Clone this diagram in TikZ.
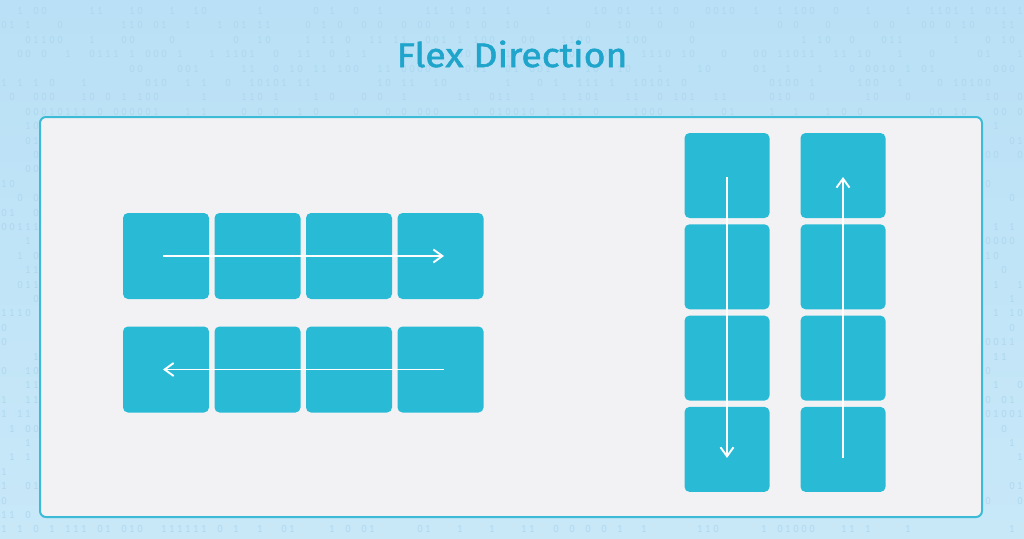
\documentclass[tikz,border=0pt]{standalone}
\usepackage{fontspec}
\setsansfont{PT Sans}
\newfontfamily\titlefont[FakeBold=1.6]{Fira Sans}
\usetikzlibrary{arrows.meta}
\definecolor{flexteal}{HTML}{29BBD6}
\definecolor{titleblue}{HTML}{1FA5CB}
\definecolor{panelgray}{HTML}{F2F2F4}
\definecolor{panelrim}{HTML}{3DBBD6}
\definecolor{skytop}{HTML}{B9E0F6}
\definecolor{skybot}{HTML}{C8E8F8}
\definecolor{bitgray}{HTML}{ADD7EF}
\tikzset{
	flexbox/.style={fill=flexteal, rounded corners=5pt, minimum width=86pt, minimum height=86pt, inner sep=0pt},
	flow/.style={white, line width=1.9pt, -{Straight Barb[length=9pt,width=13pt]}},
	bit/.style={text=bitgray, font=\sffamily\fontsize{10}{10}\selectfont, inner sep=0pt},
	panel/.style={draw=panelrim, line width=2pt, fill=panelgray, rounded corners=6pt, minimum width=942pt, minimum height=400pt, inner sep=0pt},
	heading/.style={text=titleblue, font=\titlefont\fontsize{34}{34}\selectfont, xscale=1.1}
}
\begin{document}
\begin{tikzpicture}[x=1pt,y=-1pt]
	\useasboundingbox (0,0) rectangle (1024,538);
	\shade[top color=skytop, bottom color=skybot] (0,0) rectangle (1024,538);
	% faint binary digits behind everything
	\pgfmathsetseed{42}
	\foreach \r in {0,...,36}
	\foreach \c in {0,...,127}{
		\pgfmathrandominteger{\b}{0}{4}
		\ifnum\b<2 \node[bit] (bit-\r-\c) at (4+\c*8, 11+\r*14.4) {\b};\fi
	}
	\node[panel] (panel) at (511,317) {};
	\node[heading] (title) at (512,54) {Flex Direction};
	\foreach \i in {1,...,4}{
		\node[flexbox] (row\i) at ({166+(\i-1)*91.5},256) {};
		\node[flexbox] (rowrev\i) at ({166+(\i-1)*91.5},369.5) {};
		\node[flexbox, minimum width=85pt, minimum height=85pt] (col\i) at (727,{175.5+(\i-1)*91.3}) {};
		\node[flexbox, minimum width=85pt, minimum height=85pt] (colrev\i) at (843,{175.5+(\i-1)*91.3}) {};
	}
	\draw[flow] ([xshift=-3pt]row1.center) -- ([xshift=3.5pt]row4.center);
	\draw[flow] ([xshift=3.5pt]rowrev4.center) -- ([xshift=-3pt]rowrev1.center);
	\draw[flow] ([yshift=-1.5pt]col1.center) -- ([yshift=-8.5pt]col4.center);
	\draw[flow] ([yshift=-8.5pt]colrev4.center) -- ([yshift=-1.5pt]colrev1.center);
\end{tikzpicture}
\end{document}
